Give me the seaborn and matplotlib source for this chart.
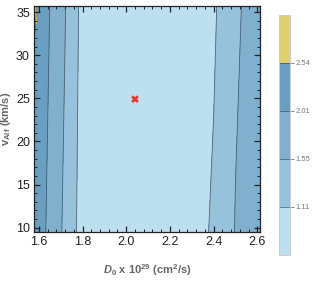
import numpy as np
import matplotlib
matplotlib.use("Agg")
import matplotlib.pyplot as plt
from matplotlib.ticker import MultipleLocator, FormatStrFormatter
import seaborn as sns

# grid of the chi2-like field (two rows, bottom and top)
d0_nodes = [1.578, 1.60, 1.65, 1.70, 1.75, 1.80, 2.05, 2.30, 2.40, 2.45, 2.50, 2.55, 2.612]
valf_nodes = [9.5, 35.7]
z_bottom = [2.02, 2.29, 1.85, 1.58, 1.30, 0.88, 0.80, 0.90, 1.173, 1.28, 1.58, 1.75, 1.90]
z_top = [2.70, 2.40, 2.01, 1.607, 1.483, 0.90, 0.80, 0.90, 1.05, 1.264, 1.45, 1.635, 1.85]

contour_levels = [0.6, 1.11, 1.55, 2.01, 2.54, 3.0]
band_colors = ["#bde0f1", "#97c2db", "#81b0cf", "#6b9fc2", "#e0d070"]

best_fit_d0 = [2.04]
best_fit_valf = [24.9]

sns.set_theme(style="ticks")
plt.rcParams["font.family"] = ["Liberation Sans", "DejaVu Sans"]
plt.rcParams["mathtext.fontset"] = "custom"
plt.rcParams["mathtext.rm"] = "Liberation Sans:bold"
plt.rcParams["mathtext.bf"] = "Liberation Sans:bold"
plt.rcParams["mathtext.it"] = "Liberation Sans:bold:italic"

fig = plt.figure(figsize=(3.16, 2.82), dpi=100)
ax = fig.add_axes([0.1076, 0.1773, 0.7152, 0.8014])
cax = fig.add_axes([0.883, 0.096, 0.035, 0.851])

X, Y = np.meshgrid(d0_nodes, valf_nodes)
Z = np.array([z_bottom, z_top])

cf = ax.contourf(X, Y, Z, levels=contour_levels, colors=band_colors)
cl = ax.contour(X, Y, Z, levels=contour_levels[1:-1], colors="#33414d",
                linewidths=0.6, alpha=0.7)

sns.scatterplot(x=best_fit_d0, y=best_fit_valf, marker="X", s=30,
                color="#e8342a", edgecolor="none", ax=ax, zorder=5)

ax.set_xlim(1.578, 2.612)
ax.set_ylim(9.5, 35.7)
ax.set_axisbelow(False)
ax.xaxis.set_major_locator(MultipleLocator(0.2))
ax.xaxis.set_minor_locator(MultipleLocator(0.04))
ax.yaxis.set_major_locator(MultipleLocator(5))
ax.yaxis.set_minor_locator(MultipleLocator(1))
ax.xaxis.set_major_formatter(FormatStrFormatter("%.1f"))
ax.tick_params(which="both", direction="in", top=True, right=True,
               colors="#222222", labelsize=9)
ax.tick_params(which="major", length=4.5, width=0.9, pad=3)
ax.tick_params(which="minor", length=2.5, width=0.7)
for s in ax.spines.values():
    s.set_linewidth(0.9)
    s.set_color("#222222")

ax.set_xlabel(r"$\mathit{D}_\mathrm{0}$ x 10$^\mathrm{29}$ (cm$^\mathrm{2}$/s)",
              fontsize=8, color="#666666", fontweight="bold", labelpad=10)
ax.set_ylabel(r"$\mathrm{v}_\mathrm{Alf}$ (km/s)", fontsize=8,
              color="#666666", fontweight="bold", labelpad=2)

cbar = fig.colorbar(cf, cax=cax)
cbar.add_lines(cl)
cbar.set_ticks(contour_levels[1:-1])
cbar.set_ticklabels(["1.11", "1.55", "2.01", "2.54"])
cbar.ax.tick_params(labelsize=5.5, colors="#777777", length=3, width=0.6,
                    direction="out", pad=1)
cbar.ax.minorticks_off()
cbar.outline.set_edgecolor("#cccccc")
cbar.outline.set_linewidth(0.8)

fig.savefig("out.png", dpi=100)
